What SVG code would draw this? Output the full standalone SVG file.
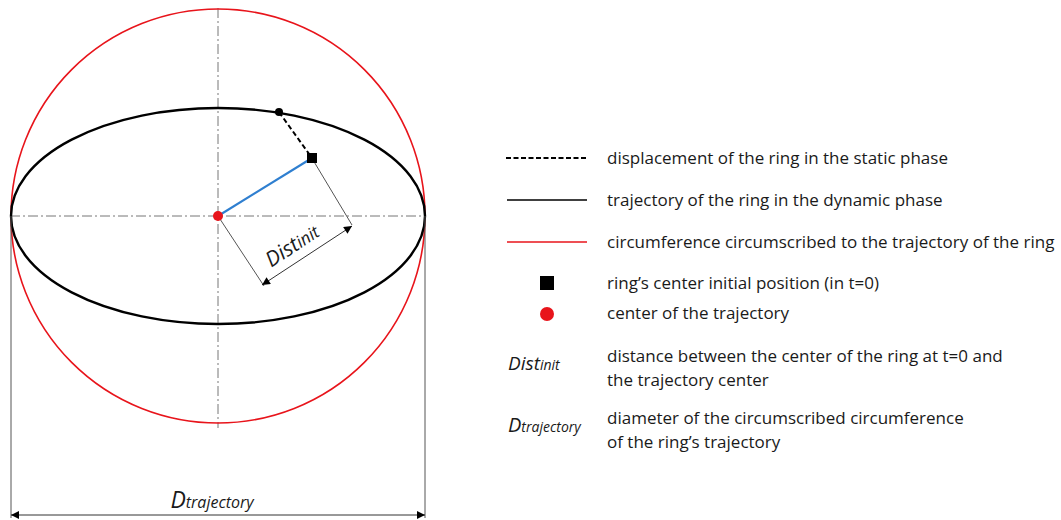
<svg xmlns="http://www.w3.org/2000/svg" width="1061" height="520" viewBox="0 0 1061 520">
<style>
.t{font-family:"Open Sans","Liberation Sans",sans-serif;font-size:17px;fill:#1a1a1a}
.it{font-family:"Open Sans","Liberation Sans",sans-serif;font-style:italic;fill:#1a1a1a}
.axis{stroke:#777;stroke-width:1;stroke-dasharray:10 3 2 3;fill:none}
.dim{stroke:#555;stroke-width:1;fill:none}
</style>
<defs>
<marker id="ah" viewBox="0 0 10 10" refX="10" refY="5" markerWidth="10" markerHeight="8" orient="auto-start-reverse" markerUnits="userSpaceOnUse">
<path d="M0,0 L10,5 L0,10 z" fill="#000"/>
</marker>
</defs>
<rect width="1061" height="520" fill="#fff"/>
<g id="axes">
<line class="axis" x1="218" y1="8" x2="218" y2="428"/>
<line class="axis" x1="10" y1="216" x2="426" y2="216"/>
</g>
<g id="circle"><circle cx="218" cy="216" r="207" fill="none" stroke="#e8141b" stroke-width="1.6"/></g>
<g id="ellipse"><ellipse cx="218" cy="216" rx="207" ry="108" fill="none" stroke="#000" stroke-width="2.4"/></g>
<g id="connectors">
<line x1="279" y1="112" x2="312" y2="158" stroke="#000" stroke-width="2" stroke-dasharray="5 3"/>
<line x1="218" y1="216" x2="312" y2="158" stroke="#2f7fd0" stroke-width="2.2"/>
<line class="dim" x1="218" y1="216" x2="264" y2="286"/>
<line class="dim" x1="313" y1="160" x2="352" y2="225"/>
<line x1="262" y1="285" x2="352" y2="226" stroke="#333" stroke-width="1" marker-start="url(#ah)" marker-end="url(#ah)"/>
<line class="dim" x1="11" y1="216" x2="11" y2="518"/>
<line class="dim" x1="425" y1="216" x2="425" y2="518"/>
<line x1="11" y1="515" x2="425" y2="515" stroke="#333" stroke-width="1" marker-start="url(#ah)" marker-end="url(#ah)"/>
</g>
<g id="points">
<circle cx="279" cy="112" r="4" fill="#000"/>
<rect x="307" y="153" width="10" height="10" fill="#000"/>
<circle cx="218" cy="216" r="5" fill="#e8141b"/>
</g>
<g id="distinit-label" transform="translate(301,259) rotate(-33.5)">
<text class="it" text-anchor="middle" y="-9"><tspan font-size="21">Dist</tspan><tspan font-size="17">init</tspan></text>
</g>
<g id="dtraj-label">
<text class="it" x="212" y="508" text-anchor="middle"><tspan font-size="23">D</tspan><tspan font-size="16">trajectory</tspan></text>
</g>
<g id="legend">
<line x1="506" y1="158" x2="587" y2="158" stroke="#000" stroke-width="2" stroke-dasharray="5 2.5"/>
<text class="t" x="607" y="164">displacement of the ring in the static phase</text>
<line x1="507" y1="200" x2="587" y2="200" stroke="#000" stroke-width="1.6"/>
<text class="t" x="607" y="206">trajectory of the ring in the dynamic phase</text>
<line x1="507" y1="242" x2="587" y2="242" stroke="#e8141b" stroke-width="1.6"/>
<text class="t" x="607" y="248">circumference circumscribed to the trajectory of the ring</text>
<rect x="540" y="276" width="14" height="14" fill="#000"/>
<text class="t" x="607" y="289">ring’s center initial position (in t=0)</text>
<circle cx="547" cy="314" r="7" fill="#e8141b"/>
<text class="t" x="607" y="319">center of the trajectory</text>
<text class="it" x="508" y="370"><tspan font-size="19">Dist</tspan><tspan font-size="14">init</tspan></text>
<text class="t" x="607" y="362">distance between the center of the ring at t=0 and</text>
<text class="t" x="607" y="386">the trajectory center</text>
<text class="it" x="508" y="432"><tspan font-size="20">D</tspan><tspan font-size="14">trajectory</tspan></text>
<text class="t" x="607" y="424">diameter of the circumscribed circumference</text>
<text class="t" x="607" y="448">of the ring’s trajectory</text>
</g>
</svg>
